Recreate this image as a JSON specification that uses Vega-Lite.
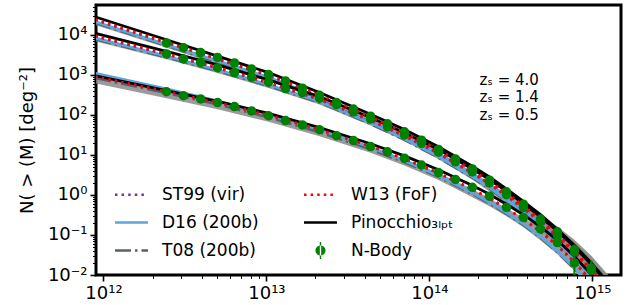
{
  "$schema": "https://vega.github.io/schema/vega-lite/v6.json",
  "width": 525,
  "height": 270,
  "autosize": {"type": "none"},
  "padding": {"left": 96, "top": 5, "right": 19, "bottom": 30},
  "background": "white",
  "config": {
    "view": {"stroke": "black", "strokeWidth": 3},
    "font": "DejaVu Sans",
    "axis": {
      "domain": false,
      "grid": false,
      "ticks": true,
      "tickColor": "black",
      "labelFont": "DejaVu Sans",
      "labelFontSize": 18,
      "labelColor": "black",
      "labelOverlap": false,
      "labelFlush": false,
      "titleFont": "DejaVu Sans",
      "titleFontSize": 18,
      "titleFontWeight": "normal",
      "titleColor": "black"
    }
  },
  "datasets": {
    "lines": [
      {"g":"A","M":8.91e11,"pin":28200,"w13":24500,"st":23400,"d16":21400,"t08":19950,"hi":21900,"lo":17800},
      {"g":"A","M":2.438e12,"pin":7590,"w13":6610,"st":6310,"d16":5750,"t08":5370,"hi":5890,"lo":4790},
      {"g":"A","M":5.012e12,"pin":2950,"w13":2570,"st":2455,"d16":2240,"t08":2090,"hi":2290,"lo":1860},
      {"g":"A","M":1.030e13,"pin":1148,"w13":1000,"st":955,"d16":871,"t08":813,"hi":891,"lo":724},
      {"g":"A","M":2.118e13,"pin":364,"w13":317,"st":303,"d16":276,"t08":258,"hi":282,"lo":230},
      {"g":"A","M":4.355e13,"pin":104,"w13":90.4,"st":86.3,"d16":76.9,"t08":71.8,"hi":80.5,"lo":65.5},
      {"g":"A","M":7.031e13,"pin":43.1,"w13":36.6,"st":35.0,"d16":30.5,"t08":28.4,"hi":32.7,"lo":26.5},
      {"g":"A","M":1.138e14,"pin":16.1,"w13":13.4,"st":12.8,"d16":10.9,"t08":10.2,"hi":11.9,"lo":9.27},
      {"g":"A","M":1.837e14,"pin":5.24,"w13":4.26,"st":4.06,"d16":3.38,"t08":3.16,"hi":3.79,"lo":2.81},
      {"g":"A","M":2.339e14,"pin":2.82,"w13":2.24,"st":2.14,"d16":1.78,"t08":1.66,"hi":2.00,"lo":1.42},
      {"g":"A","M":2.972e14,"pin":1.42,"w13":1.13,"st":1.08,"d16":0.877,"t08":0.818,"hi":1.08,"lo":0.713},
      {"g":"A","M":3.776e14,"pin":0.697,"w13":0.541,"st":0.516,"d16":0.410,"t08":0.383,"hi":0.579,"lo":0.341},
      {"g":"A","M":4.808e14,"pin":0.322,"w13":0.244,"st":0.233,"d16":0.181,"t08":0.169,"hi":0.308,"lo":0.147},
      {"g":"A","M":6.109e14,"pin":0.139,"w13":0.103,"st":0.0984,"d16":0.0746,"t08":0.0697,"hi":0.163,"lo":0.0621},
      {"g":"A","M":7.762e14,"pin":0.0553,"w13":0.0401,"st":0.0383,"d16":0.0284,"t08":0.0265,"hi":0.0764,"lo":0.0242},
      {"g":"A","M":9.863e14,"pin":0.0201,"w13":0.0142,"st":0.0136,"d16":0.00984,"t08":0.00918,"hi":0.0304,"lo":0.00857},
      {"g":"A","M":1.253e15,"pin":0.00646,"w13":0.00447,"st":0.00427,"d16":0.00302,"t08":0.00282,"hi":0.0100,"lo":0.00269},
      {"g":"B","M":8.91e11,"pin":10960,"w13":9550,"st":9120,"d16":8320,"t08":7760,"hi":8510,"lo":6920},
      {"g":"B","M":2.438e12,"pin":3890,"w13":3390,"st":3240,"d16":2950,"t08":2750,"hi":3020,"lo":2455},
      {"g":"B","M":5.012e12,"pin":1778,"w13":1549,"st":1479,"d16":1349,"t08":1259,"hi":1380,"lo":1122},
      {"g":"B","M":1.030e13,"pin":750,"w13":653,"st":624,"d16":569,"t08":531,"hi":582,"lo":473},
      {"g":"B","M":2.118e13,"pin":288,"w13":251,"st":240,"d16":219,"t08":204,"hi":224,"lo":182},
      {"g":"B","M":4.355e13,"pin":86.3,"w13":75.2,"st":71.8,"d16":64.0,"t08":59.7,"hi":67.0,"lo":54.5},
      {"g":"B","M":7.031e13,"pin":36.0,"w13":30.6,"st":29.2,"d16":25.5,"t08":23.8,"hi":27.3,"lo":22.2},
      {"g":"B","M":1.138e14,"pin":13.6,"w13":11.3,"st":10.8,"d16":9.16,"t08":8.55,"hi":10.0,"lo":7.80},
      {"g":"B","M":1.837e14,"pin":4.47,"w13":3.63,"st":3.47,"d16":2.88,"t08":2.69,"hi":3.24,"lo":2.40},
      {"g":"B","M":2.339e14,"pin":2.43,"w13":1.93,"st":1.84,"d16":1.53,"t08":1.43,"hi":1.72,"lo":1.22},
      {"g":"B","M":2.972e14,"pin":1.23,"w13":0.977,"st":0.933,"d16":0.759,"t08":0.708,"hi":0.933,"lo":0.617},
      {"g":"B","M":3.776e14,"pin":0.607,"w13":0.471,"st":0.450,"d16":0.357,"t08":0.333,"hi":0.505,"lo":0.297},
      {"g":"B","M":4.808e14,"pin":0.284,"w13":0.215,"st":0.206,"d16":0.160,"t08":0.149,"hi":0.271,"lo":0.130},
      {"g":"B","M":6.109e14,"pin":0.124,"w13":0.0918,"st":0.0877,"d16":0.0665,"t08":0.0621,"hi":0.146,"lo":0.0553},
      {"g":"B","M":7.762e14,"pin":0.0499,"w13":0.0361,"st":0.0345,"d16":0.0256,"t08":0.0239,"hi":0.0689,"lo":0.0218},
      {"g":"B","M":9.863e14,"pin":0.0183,"w13":0.0130,"st":0.0124,"d16":0.00897,"t08":0.00837,"hi":0.0277,"lo":0.00782},
      {"g":"B","M":1.253e15,"pin":0.00589,"w13":0.00407,"st":0.00389,"d16":0.00275,"t08":0.00257,"hi":0.00912,"lo":0.00245},
      {"g":"C","M":8.91e11,"pin":955,"w13":912,"st":891,"d16":1096,"t08":832,"hi":912,"lo":617},
      {"g":"C","M":2.438e12,"pin":407,"w13":389,"st":380,"d16":447,"t08":355,"hi":389,"lo":263},
      {"g":"C","M":5.012e12,"pin":220,"w13":206,"st":201,"d16":225,"t08":183,"hi":206,"lo":139},
      {"g":"C","M":1.030e13,"pin":109,"w13":99.5,"st":97.3,"d16":104,"t08":86.7,"hi":99.5,"lo":67.3},
      {"g":"C","M":2.118e13,"pin":48.6,"w13":43.4,"st":42.4,"d16":43.4,"t08":36.9,"hi":43.4,"lo":29.3},
      {"g":"C","M":4.355e13,"pin":19.1,"w13":16.7,"st":16.3,"d16":15.6,"t08":13.9,"hi":16.7,"lo":11.3},
      {"g":"C","M":7.031e13,"pin":9.48,"w13":8.07,"st":7.89,"d16":7.19,"t08":6.56,"hi":8.07,"lo":5.46},
      {"g":"C","M":1.138e14,"pin":4.29,"w13":3.56,"st":3.48,"d16":3.03,"t08":2.83,"hi":3.56,"lo":2.36},
      {"g":"C","M":1.837e14,"pin":1.72,"w13":1.40,"st":1.36,"d16":1.14,"t08":1.06,"hi":1.40,"lo":0.881},
      {"g":"C","M":2.339e14,"pin":1.04,"w13":0.826,"st":0.807,"d16":0.656,"t08":0.612,"hi":0.826,"lo":0.521},
      {"g":"C","M":2.972e14,"pin":0.587,"w13":0.467,"st":0.456,"d16":0.362,"t08":0.338,"hi":0.467,"lo":0.294},
      {"g":"C","M":3.776e14,"pin":0.321,"w13":0.249,"st":0.244,"d16":0.189,"t08":0.177,"hi":0.267,"lo":0.157},
      {"g":"C","M":4.808e14,"pin":0.161,"w13":0.122,"st":0.119,"d16":0.0906,"t08":0.0845,"hi":0.154,"lo":0.0736},
      {"g":"C","M":6.109e14,"pin":0.0736,"w13":0.0546,"st":0.0533,"d16":0.0395,"t08":0.0369,"hi":0.0865,"lo":0.0329},
      {"g":"C","M":7.762e14,"pin":0.0293,"w13":0.0212,"st":0.0207,"d16":0.0150,"t08":0.0140,"hi":0.0405,"lo":0.0128},
      {"g":"C","M":9.863e14,"pin":0.0102,"w13":0.00719,"st":0.00703,"d16":0.00498,"t08":0.00465,"hi":0.0154,"lo":0.00434},
      {"g":"C","M":1.253e15,"pin":0.00324,"w13":0.00224,"st":0.00219,"d16":0.00151,"t08":0.00141,"hi":0.00501,"lo":0.00135}
    ],
    "nbody": [
      {"g":"A","M":2.438e12,"N":6310},{"g":"A","M":3.097e12,"N":4790},{"g":"A","M":3.945e12,"N":3630},
      {"g":"A","M":5.012e12,"N":2750},{"g":"A","M":6.368e12,"N":1995},{"g":"A","M":8.110e12,"N":1413},
      {"g":"A","M":1.030e13,"N":1023},{"g":"A","M":1.309e13,"N":708},{"g":"A","M":1.663e13,"N":468},
      {"g":"A","M":2.118e13,"N":309},{"g":"A","M":2.692e13,"N":204},{"g":"A","M":3.420e13,"N":141},
      {"g":"A","M":4.355e13,"N":93.3},{"g":"A","M":5.534e13,"N":60.3},{"g":"A","M":7.031e13,"N":38.0},
      {"g":"A","M":8.954e13,"N":23.4},{"g":"A","M":1.138e14,"N":13.8},{"g":"A","M":1.445e14,"N":7.94},
      {"g":"A","M":1.837e14,"N":4.47},{"g":"A","M":2.339e14,"N":2.34},{"g":"A","M":2.972e14,"N":1.20},
      {"g":"A","M":3.776e14,"N":0.589},{"g":"A","M":4.808e14,"N":0.251},{"g":"A","M":6.109e14,"N":0.120,"lo":0.100,"hi":0.142},
      {"g":"A","M":7.762e14,"N":0.0427,"lo":0.030,"hi":0.058},{"g":"A","M":9.863e14,"N":0.0148,"lo":0.004,"hi":0.023},
      {"g":"B","M":2.438e12,"N":3350},{"g":"B","M":3.097e12,"N":2510},{"g":"B","M":3.945e12,"N":2040},
      {"g":"B","M":5.012e12,"N":1514},{"g":"B","M":6.368e12,"N":1148},{"g":"B","M":8.110e12,"N":877},
      {"g":"B","M":1.030e13,"N":661},{"g":"B","M":1.309e13,"N":457},{"g":"B","M":1.663e13,"N":363},
      {"g":"B","M":2.118e13,"N":263},{"g":"B","M":2.692e13,"N":182},{"g":"B","M":3.420e13,"N":120},
      {"g":"B","M":4.355e13,"N":79.4},{"g":"B","M":5.534e13,"N":50.1},{"g":"B","M":7.031e13,"N":31.6},
      {"g":"B","M":8.954e13,"N":19.5},{"g":"B","M":1.138e14,"N":11.7},{"g":"B","M":1.445e14,"N":6.76},
      {"g":"B","M":1.837e14,"N":3.80},{"g":"B","M":2.339e14,"N":2.00},{"g":"B","M":2.972e14,"N":1.02},
      {"g":"B","M":3.776e14,"N":0.490},{"g":"B","M":4.808e14,"N":0.224},{"g":"B","M":6.109e14,"N":0.0955,"lo":0.080,"hi":0.113},
      {"g":"B","M":7.762e14,"N":0.0380,"lo":0.026,"hi":0.052},{"g":"B","M":9.863e14,"N":0.0132,"lo":0.003,"hi":0.021},
      {"g":"C","M":2.438e12,"N":380},{"g":"C","M":3.097e12,"N":302},{"g":"C","M":3.945e12,"N":251},
      {"g":"C","M":5.012e12,"N":204},{"g":"C","M":6.368e12,"N":162},{"g":"C","M":8.110e12,"N":126},
      {"g":"C","M":1.030e13,"N":95.5},{"g":"C","M":1.309e13,"N":72.4},{"g":"C","M":1.663e13,"N":56.2},
      {"g":"C","M":2.118e13,"N":42.7},{"g":"C","M":2.692e13,"N":30.2},{"g":"C","M":3.420e13,"N":22.9},
      {"g":"C","M":4.355e13,"N":16.2},{"g":"C","M":5.534e13,"N":12.0},{"g":"C","M":7.031e13,"N":8.32},
      {"g":"C","M":8.954e13,"N":5.62},{"g":"C","M":1.138e14,"N":3.63},{"g":"C","M":1.445e14,"N":2.45},
      {"g":"C","M":1.837e14,"N":1.55},{"g":"C","M":2.339e14,"N":0.933},{"g":"C","M":2.972e14,"N":0.490},
      {"g":"C","M":3.776e14,"N":0.275},{"g":"C","M":4.808e14,"N":0.141},{"g":"C","M":6.109e14,"N":0.0646,"lo":0.052,"hi":0.080},
      {"g":"C","M":7.762e14,"N":0.0200,"lo":0.005,"hi":0.028}
    ],
    "labels": [
      {"t":["zₛ = 4.0","zₛ = 1.4","zₛ = 0.5"],"M":2.03e14,"N":750}
    ]
  },
  "layer": [
    {
      "data": {"name": "lines"},
      "mark": {"type": "area", "color": "#8a8a8a", "opacity": 0.85, "clip": true},
      "encoding": {
        "x": {
          "field": "M", "type": "quantitative",
          "scale": {"type": "log", "domain": [9e11, 1.5e15], "nice": false},
          "axis": {
            "title": null,
            "values": [1e12,2e12,3e12,4e12,5e12,6e12,7e12,8e12,9e12,1e13,2e13,3e13,4e13,5e13,6e13,7e13,8e13,9e13,1e14,2e14,3e14,4e14,5e14,6e14,7e14,8e14,9e14,1e15],
            "labelExpr": "abs(log(datum.value)/LN10 - round(log(datum.value)/LN10)) < 0.001 ? '10' + {'12':'¹²','13':'¹³','14':'¹⁴','15':'¹⁵'}[round(log(datum.value)/LN10) + ''] : ''",
            "tickSize": {"condition": {"test": "abs(log(datum.value)/LN10 - round(log(datum.value)/LN10)) < 0.001", "value": 6}, "value": 3.5},
            "tickWidth": {"condition": {"test": "abs(log(datum.value)/LN10 - round(log(datum.value)/LN10)) < 0.001", "value": 1.6}, "value": 1},
            "labelPadding": 3
          }
        },
        "y": {
          "field": "lo", "type": "quantitative",
          "scale": {"type": "log", "domain": [0.01, 56000], "nice": false},
          "axis": {
            "title": "N( > (M) [deg⁻²]",
            "values": [0.01,0.02,0.03,0.04,0.05,0.06,0.07,0.08,0.09,0.1,0.2,0.3,0.4,0.5,0.6,0.7,0.8,0.9,1,2,3,4,5,6,7,8,9,10,20,30,40,50,60,70,80,90,100,200,300,400,500,600,700,800,900,1000,2000,3000,4000,5000,6000,7000,8000,9000,10000,20000,30000,40000,50000],
            "labelExpr": "abs(log(datum.value)/LN10 - round(log(datum.value)/LN10)) < 0.001 ? '10' + {'-2':'⁻²','-1':'⁻¹','0':'⁰','1':'¹','2':'²','3':'³','4':'⁴'}[round(log(datum.value)/LN10) + ''] : ''",
            "tickSize": {"condition": {"test": "abs(log(datum.value)/LN10 - round(log(datum.value)/LN10)) < 0.001", "value": 6}, "value": 3.5},
            "tickWidth": {"condition": {"test": "abs(log(datum.value)/LN10 - round(log(datum.value)/LN10)) < 0.001", "value": 1.6}, "value": 1},
            "labelPadding": 3,
            "titlePadding": 11
          }
        },
        "y2": {"field": "hi"},
        "detail": {"field": "g"}
      }
    },
    {
      "data": {"name": "lines"},
      "mark": {"type": "line", "strokeWidth": 2.5, "strokeDash": [16, 4, 2.5, 4], "clip": true},
      "encoding": {
        "x": {"field": "M", "type": "quantitative"},
        "y": {"field": "t08", "type": "quantitative"},
        "detail": {"field": "g"},
        "color": {
          "datum": "t08", "type": "nominal",
          "scale": {"domain": ["st", "d16", "t08", "w13", "pin", "nb"], "range": ["#7b3294", "#5da5da", "#56616d", "#ff0000", "#000000", "#008000"]},
          "legend": {
            "orient": "none", "legendX": 27, "legendY": 181, "columns": 2, "title": null, "padding": 0,
            "labelFont": "DejaVu Sans", "labelFontSize": 17, "labelColor": "black", "labelLimit": 300,
            "symbolSize": 100, "labelOffset": 22, "rowPadding": 10, "columnPadding": 40,
            "labelExpr": "{'st':'ST99 (vir)','w13':'W13 (FoF)','d16':'D16 (200b)','pin':'Pinocchio₃ₗₚₜ','t08':'T08 (200b)','nb':'N-Body'}[datum.label]",
            "encode": {
              "symbols": {
                "update": {
                  "shape": {"signal": "datum.value === 'nb' ? 'M-1,0A1,1,0,1,0,1,0A1,1,0,1,0,-1,0ZM-0.14,-1.7H0.14V1.7H-0.14Z' : 'stroke'"},
                  "size": {"signal": "datum.value === 'nb' ? 100 : 1089"},
                  "strokeDash": {"signal": "datum.value === 'st' || datum.value === 'w13' ? [2.5, 4.1] : datum.value === 't08' ? [16, 4, 2.5, 4] : [1, 0]"},
                  "strokeWidth": {"signal": "datum.value === 'nb' ? 0 : 2.5"},
                  "fill": {"signal": "datum.value === 'nb' ? '#008000' : 'transparent'"},
                  "stroke": {"scale": "color", "field": "value"},
                  "opacity": {"value": 1}
                }
              }
            }
          }
        }
      }
    },
    {
      "data": {"name": "lines"},
      "mark": {"type": "line", "strokeWidth": 2.8, "clip": true},
      "encoding": {
        "x": {"field": "M", "type": "quantitative"},
        "y": {"field": "d16", "type": "quantitative"},
        "detail": {"field": "g"},
        "color": {"datum": "d16", "type": "nominal"}
      }
    },
    {
      "data": {"name": "lines"},
      "mark": {"type": "line", "strokeWidth": 2.5, "strokeDash": [2.5, 4.1], "clip": true},
      "encoding": {
        "x": {"field": "M", "type": "quantitative"},
        "y": {"field": "st", "type": "quantitative"},
        "detail": {"field": "g"},
        "color": {"datum": "st", "type": "nominal"}
      }
    },
    {
      "data": {"name": "lines"},
      "mark": {"type": "line", "strokeWidth": 2.8, "clip": true},
      "encoding": {
        "x": {"field": "M", "type": "quantitative"},
        "y": {"field": "pin", "type": "quantitative"},
        "detail": {"field": "g"},
        "color": {"datum": "pin", "type": "nominal"}
      }
    },
    {
      "data": {"name": "lines"},
      "mark": {"type": "line", "strokeWidth": 2.6, "strokeDash": [2.5, 4.1], "clip": true},
      "encoding": {
        "x": {"field": "M", "type": "quantitative"},
        "y": {"field": "w13", "type": "quantitative"},
        "detail": {"field": "g"},
        "color": {"datum": "w13", "type": "nominal"}
      }
    },
    {
      "data": {"name": "nbody"},
      "mark": {"type": "rule", "color": "#008000", "strokeWidth": 2, "clip": true},
      "encoding": {
        "x": {"field": "M", "type": "quantitative"},
        "y": {"field": "lo", "type": "quantitative"},
        "y2": {"field": "hi"}
      }
    },
    {
      "data": {"name": "nbody"},
      "mark": {"type": "circle", "size": 90, "opacity": 1, "clip": true},
      "encoding": {
        "x": {"field": "M", "type": "quantitative"},
        "y": {"field": "N", "type": "quantitative"},
        "color": {"datum": "nb", "type": "nominal"}
      }
    },
    {
      "data": {"name": "labels"},
      "mark": {"type": "text", "align": "left", "baseline": "middle", "font": "DejaVu Sans", "fontSize": 15, "lineHeight": 17.5, "color": "black"},
      "encoding": {
        "x": {"field": "M", "type": "quantitative"},
        "y": {"field": "N", "type": "quantitative"},
        "text": {"field": "t"}
      }
    }
  ]
}
